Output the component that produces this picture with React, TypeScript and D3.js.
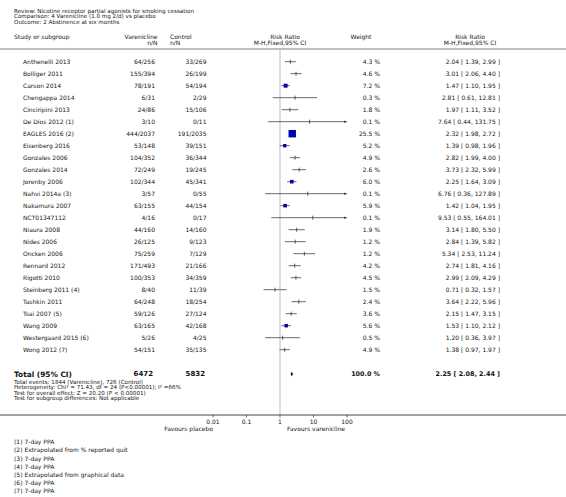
import React from "react";
import * as d3 from "d3";

const titleLines = [
  "Review:  Nicotine receptor partial agonists for smoking cessation",
  "Comparison:  4 Varenicline (1.0 mg 2/d) vs placebo",
  "Outcome:  2 Abstinence at six months",
];

const studies = [
  "Anthenelli 2013", "Bolliger 2011", "Carson 2014", "Chengappa 2014", "Cinciripini 2013",
  "De Dios 2012 (1)", "EAGLES 2016 (2)", "Eisenberg 2016", "Gonzales 2006", "Gonzales 2014",
  "Jorenby 2006", "Nahvi 2014a (3)", "Nakamura 2007", "NCT01347112", "Niaura 2008",
  "Nides 2006", "Oncken 2006", "Rennard 2012", "Rigotti 2010", "Steinberg 2011 (4)",
  "Tashkin 2011", "Tsai 2007 (5)", "Wang 2009", "Westergaard 2015 (6)", "Wong 2012 (7)",
];
const varEvents = [64, 155, 78, 6, 24, 3, 444, 53, 104, 72, 102, 3, 63, 4, 44, 26, 75, 171, 100, 8, 64, 59, 63, 5, 54];
const varTotals = [256, 394, 191, 31, 86, 10, 2037, 148, 352, 249, 344, 57, 155, 16, 160, 125, 259, 493, 353, 40, 248, 126, 165, 26, 151];
const ctlEvents = [33, 26, 54, 2, 15, 0, 191, 39, 36, 19, 45, 0, 44, 0, 14, 9, 7, 21, 34, 11, 18, 27, 42, 4, 35];
const ctlTotals = [269, 199, 194, 29, 106, 11, 2035, 151, 344, 245, 341, 55, 154, 17, 160, 123, 129, 166, 359, 39, 254, 124, 168, 25, 135];
const weights = [4.3, 4.6, 7.2, 0.3, 1.8, 0.1, 25.5, 5.2, 4.9, 2.6, 6.0, 0.1, 5.9, 0.1, 1.9, 1.2, 1.2, 4.2, 4.5, 1.5, 2.4, 3.6, 5.6, 0.5, 4.9];
const rr = [2.04, 3.01, 1.47, 2.81, 1.97, 7.64, 2.32, 1.39, 2.82, 3.73, 2.25, 6.76, 1.42, 9.53, 3.14, 2.84, 5.34, 2.74, 2.99, 0.71, 3.64, 2.15, 1.53, 1.2, 1.38];
const lo = [1.39, 2.06, 1.1, 0.61, 1.11, 0.44, 1.98, 0.98, 1.99, 2.32, 1.64, 0.36, 1.04, 0.55, 1.8, 1.39, 2.53, 1.81, 2.09, 0.32, 2.22, 1.47, 1.1, 0.36, 0.97];
const hi = [2.99, 4.4, 1.95, 12.81, 3.52, 131.75, 2.72, 1.96, 4.0, 5.99, 3.09, 127.89, 1.95, 164.01, 5.5, 5.82, 11.24, 4.16, 4.29, 1.57, 5.96, 3.15, 2.12, 3.97, 1.97];

const total = { varN: 6472, ctlN: 5832, weight: "100.0 %", rr: 2.25, lo: 2.08, hi: 2.44 };
const summaryLines = [
  "Total events: 1844 (Varenicline), 726 (Control)",
  "Heterogeneity: Chi\u00b2 = 71.43, df = 24 (P<0.00001); I\u00b2 =66%",
  "Test for overall effect: Z = 20.20 (P < 0.00001)",
  "Test for subgroup differences: Not applicable",
];
const axisTicks = [0.01, 0.1, 1, 10, 100];
const axisTickLabels = ["0.01", "0.1", "1", "10", "100"];
const footnotes = [
  "(1) 7-day PPA",
  "(2) Extrapolated from % reported quit",
  "(3) 7-day PPA",
  "(4) 7-day PPA",
  "(5) Extrapolated from graphical data",
  "(6) 7-day PPA",
  "(7) 7-day PPA",
];

const W = 566;
const H = 497;
const FONT = "'DejaVu Sans', Verdana, sans-serif";
const FS = 6.0;
const TXT = "#151515";

const fmt2 = d3.format(".2f");
const fmtW = (w: number) => d3.format(".1f")(w) + " %";
const fmtCI = (r: number, l: number, h: number) => `${fmt2(r)} [ ${fmt2(l)}, ${fmt2(h)} ]`;

export default function App() {
  const x = d3.scaleLog().domain([0.01, 100]).range([213, 347]);
  const rowY = d3.scaleLinear().domain([0, 24]).range([61.7, 349.7]);
  const sq = d3.scaleSqrt().domain([0, 25.5]).range([0, 7.4]);
  const xMin = x.range()[0];
  const xMax = x.range()[1];
  const clampX = (v: number) => Math.max(xMin, Math.min(xMax, x(v)));

  const T = (props: any) => (
    <text fontFamily={FONT} fontSize={FS} fill={TXT} dominantBaseline="central" {...props} />
  );

  const totalY = 374;
  const axisY = 415;

  return (
    <svg width={W} height={H} style={{ position: "absolute", left: 0, top: 0, background: "#fff" }}>
      <rect x={0} y={0} width={W} height={H} fill="#fff" />
      {titleLines.map((t, i) => (
        <T key={t} x={14} y={11 + i * 5.4} fontSize={5.6}>{t}</T>
      ))}
      {/* headers */}
      <T x={14} y={36.5}>Study or subgroup</T>
      <T x={157.5} y={36.5} textAnchor="end">Varenicline</T>
      <T x={157.5} y={42.7} textAnchor="end">n/N</T>
      <T x={170} y={36.5}>Control</T>
      <T x={170} y={42.7}>n/N</T>
      <T x={285} y={36.5} textAnchor="middle">Risk Ratio</T>
      <T x={280} y={42.7} textAnchor="middle">M-H,Fixed,95% CI</T>
      <T x={361} y={36.5} textAnchor="middle">Weight</T>
      <T x={470} y={36.5} textAnchor="middle">Risk Ratio</T>
      <T x={470} y={42.7} textAnchor="middle">M-H,Fixed,95% CI</T>
      <line x1={0} x2={W} y1={49} y2={49} stroke="#aaa" strokeWidth={1.5} />

      {/* null line */}
      <line x1={x(1)} x2={x(1)} y1={50} y2={axisY} stroke="#ddd" strokeWidth={2} />

      {studies.map((s, i) => {
        const y = rowY(i);
        const x1 = clampX(lo[i]);
        const x2 = clampX(hi[i]);
        const side = sq(weights[i]);
        const showSquare = weights[i] > 5;
        return (
          <g key={s}>
            <T x={23} y={y}>{s}</T>
            <T x={155} y={y} textAnchor="end">{`${varEvents[i]}/${varTotals[i]}`}</T>
            <T x={206.5} y={y} textAnchor="end">{`${ctlEvents[i]}/${ctlTotals[i]}`}</T>
            <T x={380} y={y} textAnchor="end">{fmtW(weights[i])}</T>
            <T x={500} y={y} textAnchor="end">{fmtCI(rr[i], lo[i], hi[i])}</T>
            <line x1={x1} x2={x2} y1={y} y2={y} stroke="#444" strokeWidth={0.8} />
            {hi[i] > 100 && (
              <path d={`M${xMax},${y} l-3,-1.3 l0,2.6 Z`} fill="#444" />
            )}
            {lo[i] < 0.01 && (
              <path d={`M${xMin},${y} l3,-1.3 l0,2.6 Z`} fill="#444" />
            )}
            {showSquare ? (
              <rect x={x(rr[i]) - side / 2} y={y - side / 2} width={side} height={side} fill="#0000b4" />
            ) : (
              <line x1={x(rr[i])} x2={x(rr[i])} y1={y - 2} y2={y + 2} stroke="#333" strokeWidth={0.8} />
            )}
          </g>
        );
      })}

      {/* total */}
      <text x={14} y={totalY} fontFamily={FONT} fontSize={7.4} fontWeight="bold" fill="#111" dominantBaseline="central">Total (95% CI)</text>
      <text x={153} y={totalY} fontFamily={FONT} fontSize={7} fontWeight="bold" fill="#111" textAnchor="end" dominantBaseline="central">{total.varN}</text>
      <text x={205} y={totalY} fontFamily={FONT} fontSize={7} fontWeight="bold" fill="#111" textAnchor="end" dominantBaseline="central">{total.ctlN}</text>
      <text x={380} y={totalY} fontFamily={FONT} fontSize={6.4} fontWeight="bold" fill="#111" textAnchor="end" dominantBaseline="central">{total.weight}</text>
      <text x={500} y={totalY} fontFamily={FONT} fontSize={6.4} fontWeight="bold" fill="#111" textAnchor="end" dominantBaseline="central">{fmtCI(total.rr, total.lo, total.hi)}</text>
      <path
        d={`M${x(total.lo)},${totalY} L${x(total.rr)},${totalY - 2.6} L${x(total.hi)},${totalY} L${x(total.rr)},${totalY + 2.6} Z`}
        fill="#111"
      />
      {summaryLines.map((t, i) => (
        <T key={t} x={14} y={381.5 + i * 5.5} fontSize={5.6}>{t}</T>
      ))}

      {/* axis */}
      <line x1={0} x2={W} y1={axisY} y2={axisY} stroke="#444" strokeWidth={1} />
      {axisTicks.map((t, i) => (
        <g key={t}>
          <line x1={x(t)} x2={x(t)} y1={axisY} y2={axisY + 2.5} stroke="#444" strokeWidth={0.8} />
          <T x={x(t)} y={axisY + 6.5} textAnchor="middle">{axisTickLabels[i]}</T>
        </g>
      ))}
      <T x={x(0.01)} y={428} textAnchor="end">Favours placebo</T>
      <T x={287} y={428}>Favours varenicline</T>

      {footnotes.map((t, i) => (
        <T key={i} x={14} y={441.7 + i * 8.2}>{t}</T>
      ))}
    </svg>
  );
}
